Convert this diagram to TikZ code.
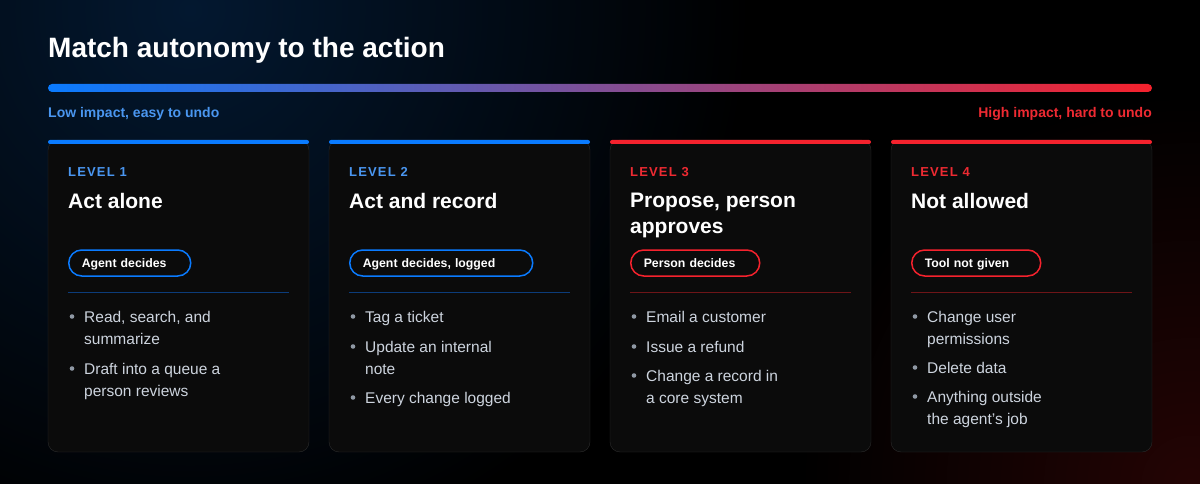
\documentclass[tikz,border=0pt]{standalone}
\usepackage{fontspec}
\setmainfont{Liberation Sans}
\newfontfamily\levelfont[LetterSpace=9]{Liberation Sans}

\definecolor{navyglow}{HTML}{031830}
\definecolor{redglow}{HTML}{240404}
\definecolor{barblue}{HTML}{0A7BFF}
\definecolor{barred}{HTML}{F5222D}
\definecolor{lowtext}{HTML}{4A96F0}
\definecolor{hightext}{HTML}{EE2A32}
\definecolor{cardfill}{HTML}{0B0B0B}
\definecolor{cardline}{HTML}{2B2B2B}
\definecolor{rulelow}{HTML}{0C3C7A}
\definecolor{rulehigh}{HTML}{6E1518}
\definecolor{itemtext}{HTML}{CDD4DE}
\definecolor{dotgray}{HTML}{8F98A4}

\begin{document}
\begin{tikzpicture}[x=1pt,y=-1pt,
    side/.style={inner sep=0pt, font=\bfseries\fontsize{14}{16}\selectfont},
    lvl/.style={inner sep=0pt, anchor=base west, font=\levelfont\bfseries\fontsize{13}{15}\selectfont},
    head/.style={inner sep=0pt, anchor=north west, align=left, text=white, font=\bfseries\fontsize{21}{26}\selectfont},
    pill/.style 2 args={draw=#1, line width=1.5pt, rounded corners=13pt, minimum height=26pt,
      inner xsep=13pt, inner ysep=0pt, text width=#2, align=left, anchor=west, text=white,
      text height=8.8pt, text depth=0pt, font=\bfseries\fontsize{12.3}{14}\selectfont},
    item/.style={inner sep=0pt, anchor=north west, align=left, text=itemtext, font=\fontsize{15.5}{22}\selectfont},
    dot/.style={fill=dotgray}
  ]
  \useasboundingbox (0,0) rectangle (1200,484);
  % background with two glows
  \fill[black] (0,0) rectangle (1200,484);
  \begin{scope}
    \clip (0,0) rectangle (1200,484);
    \shade[inner color=navyglow, outer color=black] (190,10) circle (560pt);
    \shade[inner color=redglow, outer color=black] (1190,484) circle (390pt);
  \end{scope}

  % header
  \node[inner sep=0pt, anchor=base west, text=white, font=\bfseries\fontsize{28}{32}\selectfont] (title) at (48,58) {Match autonomy to the action};
  \shade[left color=barblue, right color=barred, rounded corners=4pt] (48,84) rectangle (1152,92);
  \node[side, anchor=base west, text=lowtext] (low) at (48,118) {Low impact, easy to undo};
  \node[side, anchor=base east, text=hightext] (high) at (1152,118) {High impact, hard to undo};

  % cards
  \foreach \x/\c/\r in {48/barblue/rulelow, 329/barblue/rulelow, 610/barred/rulehigh, 891/barred/rulehigh}{
    \draw[cardline, fill=cardfill, rounded corners=10pt] (\x,140) rectangle (\x+261,452);
    \fill[\c, rounded corners=2pt] (\x,140) rectangle (\x+261,144);
    \draw[\r, line width=1pt] (\x+20,292) -- (\x+241,292);
  }

  % level 1
  \node[lvl, text=lowtext] (lv1) at (68,176) {LEVEL 1};
  \node[head] (hd1) at (68,193) {Act alone};
  \node[pill={barblue}{96pt}] (pl1) at (68,263) {Agent decides};
  \node[item] (a1) at (84,311) {Read, search, and\\summarize};
  \node[item] (a2) at (84,363) {Draft into a queue a\\person reviews};

  % level 2
  \node[lvl, text=lowtext] (lv2) at (349,176) {LEVEL 2};
  \node[head] (hd2) at (349,193) {Act and record};
  \node[pill={barblue}{157pt}] (pl2) at (349,263) {Agent decides, logged};
  \node[item] (b1) at (365,311) {Tag a ticket};
  \node[item] (b2) at (365,341) {Update an internal\\note};
  \node[item] (b3) at (365,392) {Every change logged};

  % level 3
  \node[lvl, text=hightext] (lv3) at (630,176) {LEVEL 3};
  \node[head] (hd3) at (630,193) {Propose, person\\approves};
  \node[pill={barred}{103pt}] (pl3) at (630,263) {Person decides};
  \node[item] (c1) at (646,311) {Email a customer};
  \node[item] (c2) at (646,341) {Issue a refund};
  \node[item] (c3) at (646,370) {Change a record in\\a core system};

  % level 4
  \node[lvl, text=hightext] (lv4) at (911,176) {LEVEL 4};
  \node[head] (hd4) at (911,193) {Not allowed};
  \node[pill={barred}{103pt}] (pl4) at (911,263) {Tool not given};
  \node[item] (d1) at (927,311) {Change user\\permissions};
  \node[item] (d2) at (927,362) {Delete data};
  \node[item] (d3) at (927,391) {Anything outside\\the agent's job};

  % bullets
  \foreach \n in {a1,a2,b1,b2,b3,c1,c2,c3,d1,d2,d3}
    \fill[dot] (\n.north west) ++(-12,5.5) circle (2.3pt);
\end{tikzpicture}
\end{document}
